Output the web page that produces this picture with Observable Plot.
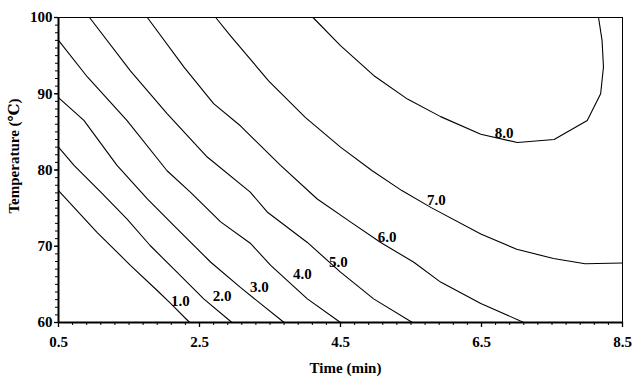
<!DOCTYPE html>
<html><head><meta charset="utf-8">
<script src="https://cdn.jsdelivr.net/npm/d3@7"></script>
<script src="https://cdn.jsdelivr.net/npm/@observablehq/plot@0.6"></script>
<style>body{margin:0;background:#fff} svg{display:block}</style>
</head><body><div id="chart"></div>
<script>
// Axis ticks
const xTicks = [0.5, 2.5, 4.5, 6.5, 8.5];
const yTicks = [60, 70, 80, 90, 100];
const xMinorTicks = Array.from({length: 41}, (_, i) => +(0.5 + i * 0.2).toFixed(1));
const yMinorTicks = Array.from({length: 41}, (_, i) => 60 + i);

// Contour levels and their label positions
const levels = ["1.0", "2.0", "3.0", "4.0", "5.0", "6.0", "7.0", "8.0"];
const labelX = [2.23, 2.82, 3.35, 3.96, 4.47, 5.16, 5.86, 6.82];
const labelY = [62.8, 63.5, 64.6, 66.4, 67.9, 71.2, 76.0, 84.8];

// Contour lines [time, temperature]
const contour1 = [[0.5,77.3],[1.05,71.8],[1.52,67.5],[1.90,64.2],[2.09,62.5],[2.36,60]];
const contour2 = [[0.5,83.0],[0.72,80.6],[1.10,77.1],[1.47,73.6],[1.80,70.1],[2.18,66.6],[2.56,63.1],[2.96,60]];
const contour3 = [[0.5,89.5],[0.86,86.5],[1.33,80.6],[1.76,76.2],[2.18,72.3],[2.66,67.9],[3.08,64.6],[3.70,60]];
const contour4 = [[0.5,97.0],[0.91,92.2],[1.47,86.5],[2.04,79.9],[2.37,77.1],[2.80,73.2],[3.22,70.4],[3.51,67.5],[4.03,63.1],[4.50,60]];
const contour5 = [[0.94,100],[1.52,93.0],[2.04,87.4],[2.61,81.7],[3.22,77.1],[3.46,74.5],[4.03,70.5],[4.50,66.6],[4.97,63.1],[5.52,60]];
const contour6 = [[1.76,100],[2.28,93.5],[2.70,88.7],[3.08,85.8],[3.65,80.6],[4.17,76.2],[4.64,73.2],[5.07,70.5],[5.54,67.9],[5.92,65.3],[6.49,62.5],[7.10,60]];
const contour7 = [[2.73,100],[2.94,97.6],[3.48,91.7],[4.00,86.9],[4.50,83.0],[4.95,79.9],[5.37,77.3],[5.78,75.1],[6.49,71.6],[7.00,69.6],[7.52,68.4],[7.97,67.7],[8.5,67.8]];
const contour8 = [[4.11,100],[4.50,96.3],[4.97,92.4],[5.45,89.3],[5.92,87.0],[6.49,84.7],[7.01,83.6],[7.53,84.0],[8.00,86.5],[8.19,90.0],[8.23,93.5],[8.21,97.0],[8.16,100]];

const contours = [contour1, contour2, contour3, contour4, contour5, contour6, contour7, contour8];
const lineRows = contours.flatMap((c, i) => c.map(([x, y]) => ({level: levels[i], x, y})));
const labelRows = levels.map((l, i) => ({level: l, x: labelX[i], y: labelY[i]}));

const font = "'Liberation Serif', 'Times New Roman', 'DejaVu Serif', serif";

const chart = Plot.plot({
  width: 633,
  height: 380,
  marginLeft: 58,
  marginRight: 11,
  marginTop: 17,
  marginBottom: 58,
  style: {fontFamily: font, fontSize: "15px", fontWeight: "bold", color: "#000", background: "#fff"},
  x: {domain: [0.5, 8.5]},
  y: {domain: [60, 100]},
  marks: [
    Plot.frame({stroke: "#000", strokeWidth: 1}),
    Plot.axisX({ticks: xMinorTicks, tickSize: 3, tickFormat: null, text: null, strokeWidth: 1, label: null}),
    Plot.axisX({ticks: xTicks, tickSize: 5, tickPadding: 9, tickFormat: d => d.toFixed(1), strokeWidth: 1.3, label: null, fontSize: 15, fontWeight: "bold", fontFamily: font}),
    Plot.axisY({ticks: yMinorTicks, tickSize: 3, tickFormat: null, text: null, strokeWidth: 1, label: null}),
    Plot.axisY({ticks: yTicks, tickSize: 4, tickPadding: 2, tickFormat: d => String(d), strokeWidth: 1.3, label: null, fontSize: 15, fontWeight: "bold", fontFamily: font}),
    Plot.ruleX([0.5], {stroke: "#000", strokeWidth: 2}),
    Plot.ruleY([60], {stroke: "#000", strokeWidth: 2}),
    Plot.line(lineRows, {x: "x", y: "y", z: "level", stroke: "#000", strokeWidth: 1.1}),
    Plot.text(labelRows, {x: "x", y: "y", text: "level", fill: "#000", fontSize: 15, fontWeight: "bold", fontFamily: font}),
    Plot.text(["Time (min)"], {frameAnchor: "bottom", dx: 5, dy: 50, text: d => d, fontSize: 15, fontWeight: "bold", fontFamily: font, fill: "#000"}),
    Plot.text(["Temperature (\u2103)"], {frameAnchor: "left", textAnchor: "middle", dx: -44, dy: -14, rotate: -90, text: d => d, fontSize: 15, fontWeight: "bold", fontFamily: font, fill: "#000"})
  ]
});
document.getElementById("chart").appendChild(chart);
</script>
</body></html>
